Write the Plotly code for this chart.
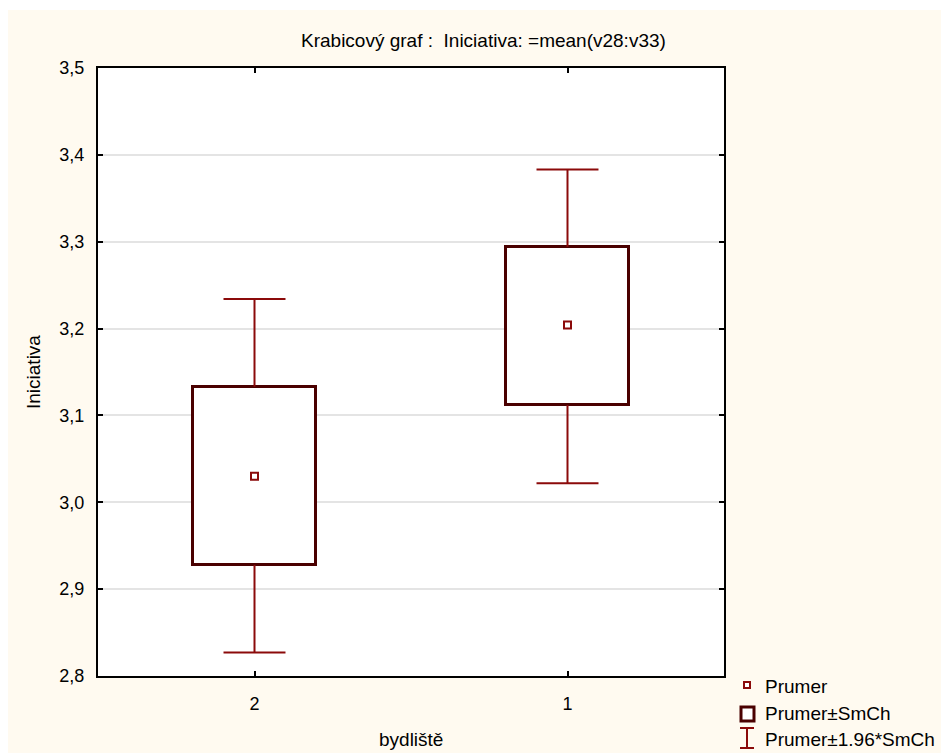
import plotly.graph_objects as go

# ---- data ----
categories = ["2", "1"]
means = [3.030, 3.204]
se_low = [2.928, 3.112]
se_high = [3.133, 3.294]
ci_low = [2.827, 3.022]
ci_high = [3.234, 3.383]
y_ticks = [2.8, 2.9, 3.0, 3.1, 3.2, 3.3, 3.4, 3.5]

FONT = "Arial, Liberation Sans, sans-serif"
BOX_C = "#4a0000"
WHISK_C = "#8b0a0a"
CREAM = "#fffaf0"

xs = list(range(len(categories)))
BOX_W = 0.396
CAP = 0.099

fig = go.Figure()

# whiskers
wx, wy = [], []
for x, lo, hi, blo, bhi in zip(xs, ci_low, ci_high, se_low, se_high):
    wx += [x - CAP, x + CAP, None, x, x, None, x, x, None, x - CAP, x + CAP, None]
    wy += [hi, hi, None, hi, bhi, None, blo, lo, None, lo, lo, None]
fig.add_trace(go.Scatter(x=wx, y=wy, mode="lines",
                         line=dict(color=WHISK_C, width=2),
                         showlegend=False, hoverinfo="skip"))

# boxes (mean ± SE)
fig.add_trace(go.Bar(x=xs, y=[h - l for h, l in zip(se_high, se_low)], base=se_low,
                     width=BOX_W, marker=dict(color="white", line=dict(color=BOX_C, width=3)),
                     showlegend=False, hoverinfo="skip"))

# means
fig.add_trace(go.Scatter(x=xs, y=means, mode="markers",
                         marker=dict(symbol="square-open", size=7, color=WHISK_C,
                                     line=dict(width=2, color=WHISK_C)),
                         showlegend=False, hoverinfo="skip"))

shapes = [
    dict(type="rect", xref="paper", yref="paper", x0=-0.1438, x1=1.4, y0=-0.2, y1=1.0954,
         fillcolor=CREAM, line=dict(width=0), layer="below"),
    dict(type="rect", xref="paper", yref="paper", x0=0, x1=1, y0=0, y1=1,
         fillcolor="white", line=dict(width=0), layer="below"),
]

# manual legend (paper coords)
def px(x):
    return (x - 98) / 626.0

def py(y):
    return (676 - y) / 608.0

shapes += [
    dict(type="rect", xref="paper", yref="paper", x0=px(744), x1=px(750), y0=py(688), y1=py(682),
         line=dict(color=WHISK_C, width=2), fillcolor="white"),
    dict(type="rect", xref="paper", yref="paper", x0=px(741), x1=px(754), y0=py(721), y1=py(707),
         line=dict(color=BOX_C, width=3), fillcolor="white"),
    dict(type="line", xref="paper", yref="paper", x0=px(740), x1=px(754), y0=py(728), y1=py(728),
         line=dict(color=WHISK_C, width=2)),
    dict(type="line", xref="paper", yref="paper", x0=px(747), x1=px(747), y0=py(728), y1=py(748),
         line=dict(color=WHISK_C, width=2)),
    dict(type="line", xref="paper", yref="paper", x0=px(740), x1=px(754), y0=py(748), y1=py(748),
         line=dict(color=WHISK_C, width=2)),
]

legend_labels = ["Prumer", "Prumer±SmCh", "Prumer±1.96*SmCh"]
legend_y = [686, 713, 739]
annotations = []
for lab, yy in zip(legend_labels, legend_y):
    annotations.append(dict(text=lab, xref="paper", yref="paper", x=px(763), y=py(yy),
                            xanchor="left", yanchor="middle", showarrow=False,
                            font=dict(family=FONT, size=19, color="black")))

annotations.append(dict(text="Krabicový graf :  Iniciativa: =mean(v28:v33)",
                        xref="paper", yref="paper", x=px(483), y=py(40),
                        xanchor="center", yanchor="middle", showarrow=False,
                        font=dict(family=FONT, size=19, color="black")))
annotations.append(dict(text="bydliště", xref="paper", yref="paper", x=px(411), y=py(739),
                        xanchor="center", yanchor="middle", showarrow=False,
                        font=dict(family=FONT, size=19, color="black")))
annotations.append(dict(text="Iniciativa", xref="paper", yref="paper", x=px(33), y=py(372),
                        xanchor="center", yanchor="middle", showarrow=False, textangle=-90,
                        font=dict(family=FONT, size=19, color="black")))

fig.update_layout(
    width=941, height=753,
    margin=dict(l=98, r=217, t=68, b=77),
    paper_bgcolor="white",
    plot_bgcolor="rgba(0,0,0,0)",
    separators=", ",
    font=dict(family=FONT, size=18, color="black"),
    shapes=shapes,
    annotations=annotations,
    showlegend=False,
    bargap=0,
)
fig.update_xaxes(range=[-0.5, 1.5], tickvals=xs, ticktext=categories,
                 showline=True, linecolor="black", linewidth=2, mirror="allticks",
                 ticks="inside", ticklen=5, tickwidth=2, tickcolor="black",
                 showgrid=False, zeroline=False, ticklabelstandoff=10,
                 tickfont=dict(family=FONT, size=18, color="black"))
fig.update_yaxes(range=[2.8, 3.5], tickvals=y_ticks, tickformat=".1f",
                 showline=True, linecolor="black", linewidth=2, mirror="allticks",
                 ticks="inside", ticklen=5, tickwidth=2, tickcolor="black",
                 showgrid=True, gridcolor="#e4e4e4", gridwidth=2, zeroline=False,
                 ticklabelstandoff=8,
                 tickfont=dict(family=FONT, size=18, color="black"))

fig.write_html("out.html")
